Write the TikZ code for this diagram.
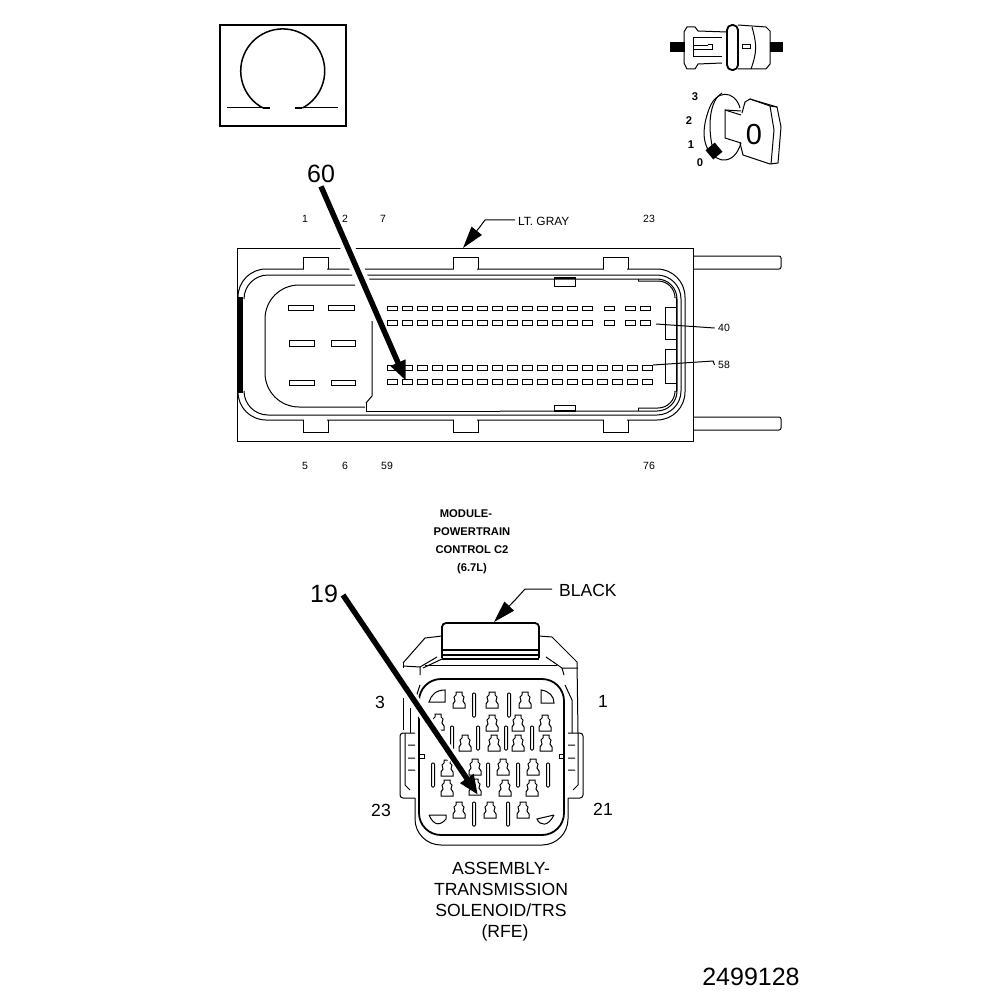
\documentclass[tikz,border=0pt]{standalone}
\usepackage{fontspec}
\setmainfont{Liberation Sans}
\usetikzlibrary{arrows.meta,positioning,shapes,calc}

\tikzset{
  thinline/.style={line width=1pt, black},
  heavyline/.style={line width=1.8pt, black},
  bigarrow/.style={line width=5.5pt, -{Triangle[length=20pt,width=15pt]}},
  leadarrow/.style={line width=1pt, -{Triangle[length=22pt,width=13pt]}},
  tinylabel/.style={font=\fontsize{10.5}{12}\selectfont},
  boldlabel/.style={font=\fontsize{11.2}{13}\selectfont\bfseries},
  midlabel/.style={font=\fontsize{17.6}{20}\selectfont},
  biglabel/.style={font=\fontsize{25}{27}\selectfont}
}

\newcommand{\slotpin}[4]{\draw[thinline] (#1,#2) rectangle (#3,#4);}
\newcommand{\termpin}[2]{\draw[thinline, shift={(#1,#2)}] (-3,-8) -- (3,-8) -- (3,-5) -- (5,-3) -- (4,1) -- (6,4) -- (6,8) -- (-6,8) -- (-6,4) -- (-4,1) -- (-5,-3) -- (-3,-5) -- cycle;}
\newcommand{\needlepin}[2]{\draw[thinline, rounded corners=1pt] (#1-1.5,#2-12) rectangle (#1+1.5,#2+12);}

\begin{document}
\begin{tikzpicture}[x=1pt,y=-1pt]
\useasboundingbox (0,0) rectangle (1008,1000);

% Omega icon
\draw[heavyline] (220,25) rectangle (346,126);
\draw[line width=1.5pt] (263,108) arc[start angle=118, end angle=422, radius=42];
\draw[thinline] (227,108) -- (270,108);
\draw[thinline] (295,108) -- (338,108);
\draw[line width=1.8pt] (263,108) -- (270,108) (295,108) -- (302,108);

% Plug icon
\fill (670,42) rectangle (685,52);
\fill (770,42) rectangle (783,52);
\draw[thinline] (727,32) -- (698,31) -- (695,27) -- (687,27) -- (684,32) -- (684,63) -- (687,69) -- (695,69) -- (698,64) -- (722,63);
\draw[thinline] (693,38) -- (722,38) (693,38) -- (693,57) -- (722,57) (708,45) -- (712,45) -- (712,50) -- (708,50);
\draw[thinline] (693,46) -- (708,46) (693,50) -- (708,50);
\draw[heavyline, rounded corners=5pt] (727,25) rectangle (738,70);
\draw[thinline] (738,25) -- (766,27) -- (770,31) -- (770,64) -- (766,69) -- (738,69);
\draw[thinline] (752,27) .. controls (757,45) and (757,52) .. (751,69);
\draw[thinline] (742,45) rectangle (750,49);

% Key icon
\draw[thinline] (740,108) .. controls (735,90) and (715,88) .. (708,112) .. controls (700,135) and (704,155) .. (722,160) .. controls (732,161) and (738,153) .. (741,143);
\draw[thinline] (722,93) .. controls (710,100) and (707,125) .. (713,150);
\draw[thinline] (741,115) -- (725,110) -- (725,138) -- (741,143);
\draw[thinline] (725,110) -- (741,111);
\draw[thinline] (742,113) -- (745,102) -- (750,99) -- (777,107) -- (781,127) -- (778,163) -- (770,164) -- (743,155) -- (740,143);
\draw[thinline] (750,99) -- (770,106) -- (777,107) (770,106) -- (774,130) -- (771,164);
\node[font=\fontsize{29}{30}\selectfont] (keyzero) at (754,135) {0};
\fill[rotate around={40:(714,151)}] (708,145) rectangle (720,157);
\node[boldlabel] (pos3) at (695,97) {3};
\node[boldlabel] (pos2) at (689,121) {2};
\node[boldlabel] (pos1) at (691,145) {1};
\node[boldlabel] (pos0) at (700,163) {0};

% Module connector C2
\draw[thinline] (237,248) rectangle (693,441);
\draw[thinline, rounded corners=2pt] (693,256) -- (781,256) -- (781,269) -- (693,269);
\draw[thinline, rounded corners=2pt] (693,417) -- (781,417) -- (781,430) -- (693,430);
\draw[thinline, rounded corners=28pt] (238,297) -- (238,269) -- (685,269) -- (685,420) -- (238,420) -- (238,393);
\draw[thinline, rounded corners=24pt] (244,297) -- (244,275) -- (681,275) -- (681,415) -- (244,415) -- (244,393);
\draw[thinline, rounded corners=20pt] (367,279) -- (677,279) -- (677,411) -- (500,411);
\draw[thinline] (500,411) -- (366,411) -- (366,403);
\draw[thinline] (638,279) -- (638,281);
\draw[thinline] (638,408) -- (638,411);
\draw[thinline, rounded corners=17pt] (638,281) -- (675,281) -- (675,297);
\draw[thinline, rounded corners=17pt] (638,408) -- (675,408) -- (675,392);
\draw[thinline] (676,297) -- (676,392);
\draw[line width=5pt] (240,297) -- (240,393);

% Latch tabs
\foreach \tabx in {303,453,603} {
  \fill[white] (\tabx+1,262) rectangle (\tabx+24,270);
  \fill[white] (\tabx+1,419) rectangle (\tabx+24,425);
  \draw[thinline] (\tabx,269) -- (\tabx,257) -- (\tabx+25,257) -- (\tabx+25,269);
  \draw[thinline] (\tabx,420) -- (\tabx,432) -- (\tabx+25,432) -- (\tabx+25,420);
}

% Power pin cavity
\draw[thinline, rounded corners=34pt] (355,285) -- (265,285) -- (265,407) -- (365,407);
\draw[thinline] (372,321) -- (372,396) -- (366,403);
\slotpin{288}{305}{313}{310}
\slotpin{328}{305}{354}{310}
\slotpin{289}{340}{314}{346}
\slotpin{331}{340}{355}{346}
\slotpin{289}{380}{314}{385}
\slotpin{331}{380}{355}{385}

% Signal pins
\foreach \pinx in {387,402,...,582,604,625,640} {
  \slotpin{\pinx}{306}{\pinx+10}{310}
  \slotpin{\pinx}{320}{\pinx+10}{325}
}
\foreach \pinx in {387,402,...,642} {
  \slotpin{\pinx}{365}{\pinx+10}{370}
  \slotpin{\pinx}{379}{\pinx+10}{384}
}

% Side keys and small windows
\draw[thinline] (676,307) -- (665,307) -- (665,339) -- (676,339);
\draw[thinline] (676,349) -- (665,349) -- (665,383) -- (676,383);
\draw[thinline] (554,277) rectangle (575,286);
\draw[thinline] (554,405) rectangle (575,411);
\draw[line width=1.8pt] (554,411) -- (575,411);
\draw[line width=1.8pt] (554,278) -- (575,278);

% Labels of the module connector
\node[biglabel] (callsixty) at (321,174) {60};
\coordinate (sixtytip) at (406,381);
\draw[white, line width=14pt] ($(callsixty.south)!0.28!(sixtytip)$) -- ($(callsixty.south)!0.62!(sixtytip)$);
\draw[bigarrow] (callsixty.south) -- (sixtytip);

\node[tinylabel] (pinone) at (305,219) {1};
\node[tinylabel] (pintwo) at (345,219) {2};
\node[tinylabel] (pinseven) at (383,219) {7};
\node[tinylabel] (pintwentythree) at (649,219) {23};
\node[font=\fontsize{11.9}{13}\selectfont, anchor=west, inner xsep=0pt] (ltgray) at (518,221) {LT. GRAY};
\node[tinylabel] (pinfive) at (305,466) {5};
\node[tinylabel] (pinsix) at (345,466) {6};
\node[tinylabel] (pinfiftynine) at (387,466) {59};
\node[tinylabel] (pinseventysix) at (649,466) {76};
\node[tinylabel] (pinforty) at (724,328) {40};
\node[tinylabel] (pinfiftyeight) at (724,365) {58};

\coordinate (grayknee) at (485,220);
\coordinate (graytip) at (463,248);
\coordinate (fortyend) at (656,324);
\coordinate (fiftyeightend) at (653,365);
\draw[thinline] (515,220) -- (grayknee) -- (479,228);
\draw[leadarrow] (479,228) -- (graytip);
\draw[thinline] (pinforty.west) -- (fortyend);
\draw[thinline] (pinfiftyeight.west) -- (713,361) -- (fiftyeightend);

\node[boldlabel, align=center] (modulename) at (472,542) {\hspace*{-12pt}MODULE-\\[5pt]POWERTRAIN\\[5pt]CONTROL C2\\[5pt](6.7L)};

% Solenoid connector
\draw[thinline] (403,663) -- (425,638) -- (442,636);
\draw[thinline] (539,636) -- (552,637) -- (577,662) -- (578,733);
\draw[thinline] (403,663) -- (403,668) (403,698) -- (403,730);
\draw[thinline] (403,666) -- (420,667) -- (420,675) (420,667) -- (437,657) (423,668) -- (442,659);
\draw[thinline] (425,665) -- (557,665);
\draw[thinline] (546,657) -- (562,668) -- (564,675) (562,668) -- (578,668);
\draw[thinline] (410,708) -- (410,733) (418,722) -- (418,733);
\draw[thinline] (416,697) -- (420,685) (565,685) -- (572,700) -- (572,733);
\draw[heavyline, rounded corners=4pt] (442,658) -- (442,623) -- (539,623) -- (539,658);
\draw[heavyline] (442,650) -- (539,650) (442,655) -- (539,655) (442,659) -- (539,659);
\draw[heavyline, rounded corners=22pt] (419,760) -- (419,679) -- (564,679) -- (564,835) -- (419,835) -- (419,760);
\draw[thinline, rounded corners=26pt] (415,798) -- (415,845) -- (568,845) -- (568,798);
\draw[thinline, rounded corners=3pt] (415,733) -- (400,733) -- (400,798) -- (415,798);
\draw[thinline, rounded corners=3pt] (568,733) -- (583,733) -- (583,798) -- (568,798);
\draw[thinline] (405,733) -- (405,785) -- (410,790) (408,745) -- (415,745) (408,758) -- (415,758) (408,770) -- (415,770);
\draw[thinline] (578,733) -- (578,785) -- (573,790) (575,745) -- (568,745) (575,758) -- (568,758) (575,770) -- (568,770);
\draw[thinline] (419,754) -- (424,754) -- (424,758) -- (419,758);
\draw[thinline] (564,754) -- (559,754) -- (559,758) -- (564,758);

% Corner cavities
\draw[thinline] (429,702) .. controls (431,695) and (436,690) .. (445,690) -- (445,702) -- cycle;
\draw[thinline] (541,690) .. controls (549,691) and (554,696) .. (554,703) -- (541,703) -- cycle;
\draw[thinline] (429,815) -- (446,815) -- (446,819) .. controls (440,826) and (434,826) .. (429,815);
\draw[thinline] (554,815) -- (537,819) .. controls (540,826) and (548,827) .. (554,815);

% Terminals
\foreach \termx/\termy in {459/700,492/700,525/700,492/723,518/723,545/723,438/722,465/743,494/743,518/743,546/743,447/768,475/767,503/767,533/767,447/788,475/787,505/788,532/788,459/810,490/810,523/810} {
  \termpin{\termx}{\termy}
}
\foreach \needx/\needy in {474/705,509/705,452/738,478/738,506/738,532/738,433/775,488/775,518/775,548/775,474/814,508/814} {
  \needlepin{\needx}{\needy}
}

% Labels of the solenoid connector
\node[midlabel] (cavthree) at (380,702) {3};
\node[midlabel] (cavone) at (603,701) {1};
\node[midlabel] (cavtwentythree) at (381,810) {23};
\node[midlabel] (cavtwentyone) at (603,809) {21};
\node[font=\fontsize{17.5}{20}\selectfont, anchor=west, inner xsep=0pt] (blacklabel) at (559,590) {BLACK};
\coordinate (blackknee) at (525,589);
\coordinate (blacktip) at (494,622);
\draw[thinline] (552,589) -- (blackknee) -- (516,599);
\draw[leadarrow] (516,599) -- (blacktip);

\node[biglabel] (callnineteen) at (324,594) {19};
\coordinate (nineteentip) at (478,795);
\coordinate (nineteenstart) at (343,595);
\draw[white, line width=11pt] ($(nineteenstart)!0.2!(nineteentip)$) -- ($(nineteenstart)!0.82!(nineteentip)$);
\draw[bigarrow] (nineteenstart) -- (nineteentip);

\node[midlabel, align=center] (assemblyname) at (501,902) {ASSEMBLY-\\[1pt]TRANSMISSION\\[1pt]SOLENOID/TRS\\[1pt]\hspace*{8pt}(RFE)};

\node[font=\fontsize{25}{27}\selectfont] (partnumber) at (751,977) {2499128};

\end{tikzpicture}
\end{document}
